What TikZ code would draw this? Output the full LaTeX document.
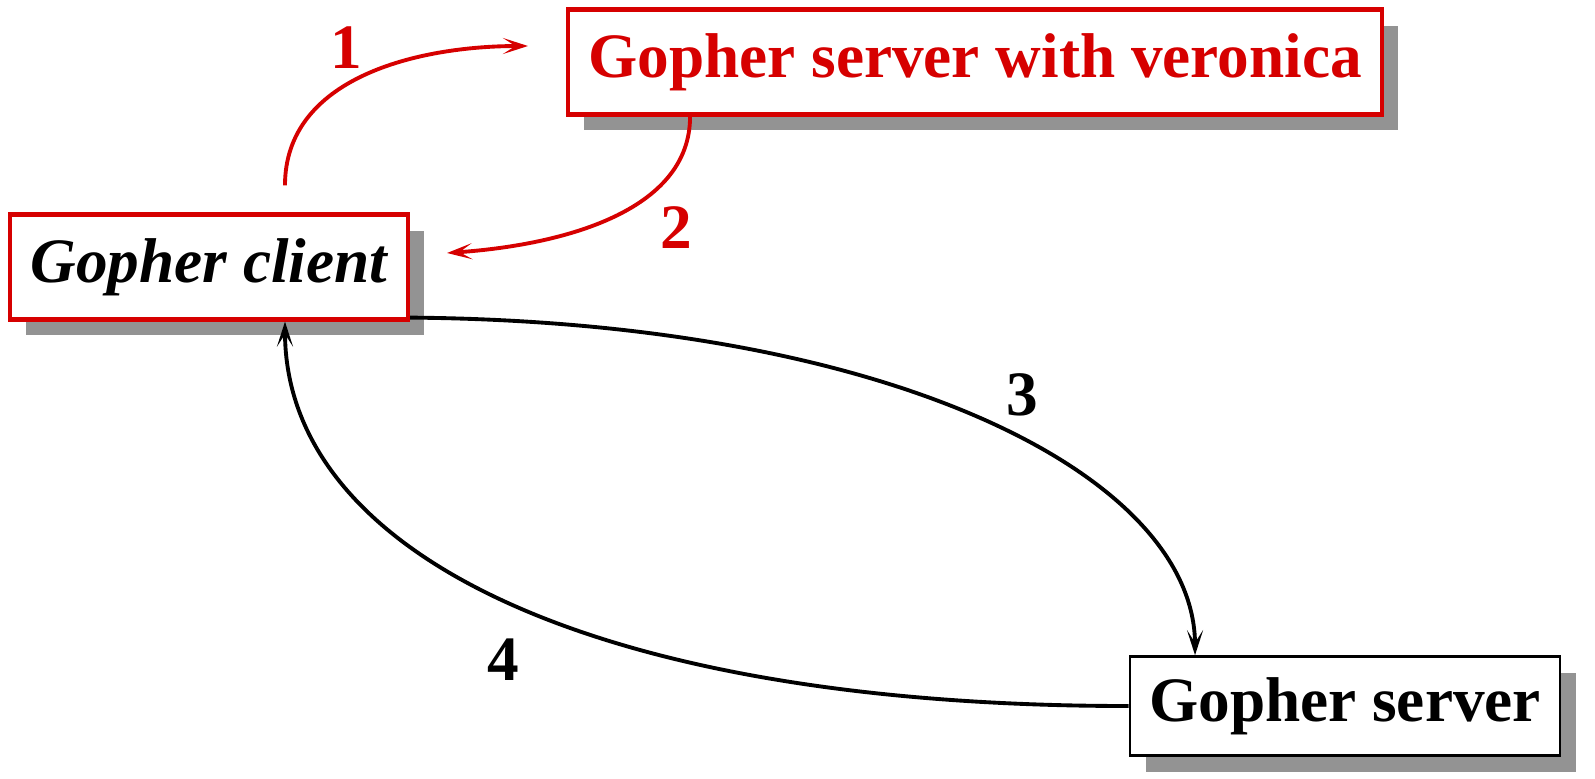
\documentclass[tikz,border=0pt]{standalone}
\usepackage{fontspec}
\setmainfont{Liberation Serif}
\usepackage{xcolor}
\usetikzlibrary{arrows.meta,shadows}
\definecolor{vred}{RGB}{214,0,0}
\definecolor{shadowgray}{RGB}{147,147,147}
\tikzset{
    %Define standard arrow tip
    >={Stealth[length=0.5cm,width=0.32cm,inset=0.25cm]},
    %Define style for boxes
    hostbox/.style={
           rectangle,
           draw=black, line width=1.5pt,
           fill=white,
           inner sep=0pt,
           font=\bfseries\fontsize{36}{40}\selectfont,
           text centered,
           drop shadow={shadow xshift=0.32cm, shadow yshift=-0.32cm,
                        fill=shadowgray, opacity=1}},
    vbox/.style={
           hostbox,
           draw=vred, line width=2.4pt},
    steplabel/.style={
           font=\bfseries\fontsize{36}{40}\selectfont},
    % Define arrow style
    flow/.style={
           ->,
           line width=2.2pt},
    vflow/.style={
           flow,
           draw=vred}
}
\begin{document}
\begin{tikzpicture}[x=0.02cm,y=-0.02cm]
\useasboundingbox (0,0) rectangle (1595,778);
 %nodes
\node[vbox, text=vred, minimum width=16.28cm, minimum height=2.1cm] (veronica) at (975,62) {Gopher server with veronica};
\node[vbox, minimum width=7.96cm, minimum height=2.1cm] (client) at (209,267) {\itshape Gopher client};
\node[hostbox, minimum width=8.6cm, minimum height=1.98cm] (server) at (1345,706) {Gopher server};
 %labels
\node[steplabel, text=vred] (l1) at (346,48) {1};
\node[steplabel, text=vred] (l2) at (676,228) {2};
\node[steplabel] (l3) at (1022,395) {3};
\node[steplabel] (l4) at (503,660) {4};
 %arrows
\draw[vflow] ([xshift=1.52cm,yshift=0.54cm]client.north) .. controls +(0,-108) and +(-110,0) .. ([xshift=-0.76cm,yshift=0.32cm]veronica.west);
\draw[vflow] ([xshift=-5.7cm]veronica.south) .. controls +(0,95) and +(115,-8) .. ([xshift=0.74cm,yshift=0.28cm]client.east);
\draw[flow] ([yshift=0.08cm]client.south east) .. controls +(490,4) and +(0,-176) .. ([xshift=-3cm]server.north);
\draw[flow] (server.west) .. controls +(-540,0) and +(0,230) .. ([xshift=1.52cm]client.south);
\end{tikzpicture}
\end{document}
